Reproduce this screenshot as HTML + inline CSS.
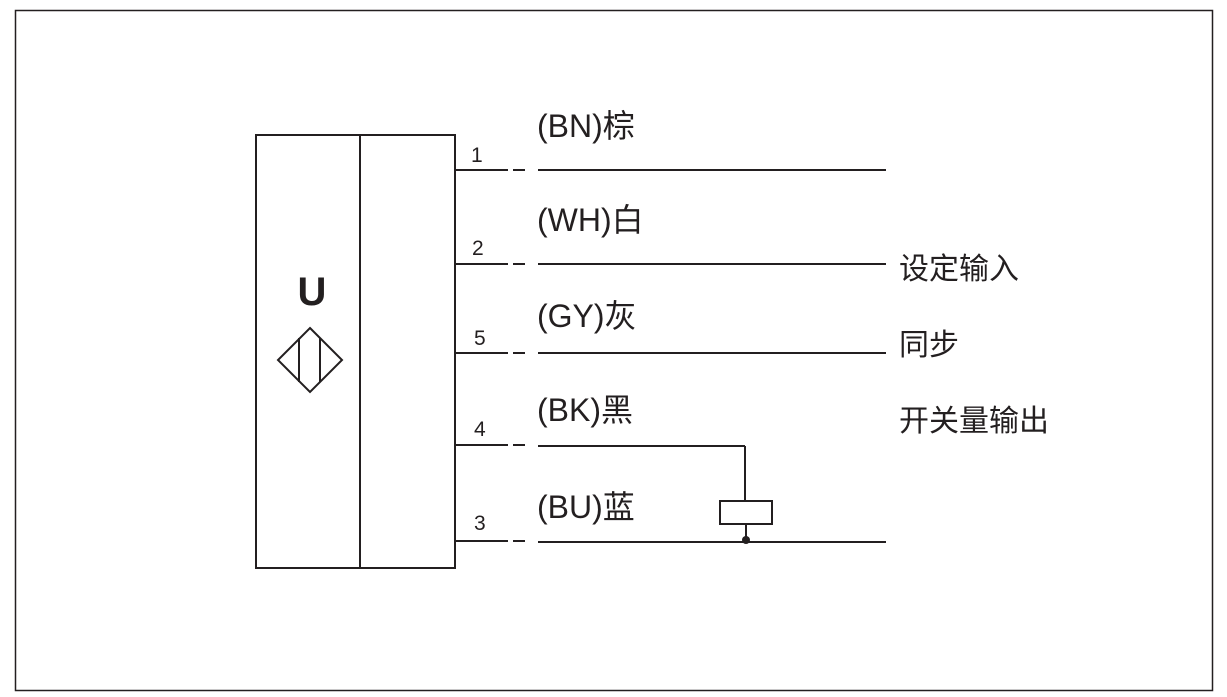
<!DOCTYPE html>
<html><head><meta charset="utf-8"><style>
html,body{margin:0;padding:0;background:#fff;}
svg{display:block;}
text{font-family:"Liberation Sans","Noto Sans CJK SC",sans-serif;fill:#231f20;}
</style></head><body>
<svg width="1227" height="697" viewBox="0 0 1227 697" xmlns="http://www.w3.org/2000/svg">
<rect x="15.5" y="10.5" width="1197" height="680" fill="none" stroke="#231f20" stroke-width="1.5"/>
<g stroke="#231f20" stroke-width="2" fill="none">
<rect x="256" y="135" width="199" height="433"/>
<line x1="360" y1="135" x2="360" y2="568"/>
<polygon points="310,328 342,360 310,392 278,360"/>
<line x1="299" y1="338" x2="299" y2="382"/>
<line x1="320" y1="338" x2="320" y2="382"/>
</g>
<text x="312" y="305" font-size="40" font-weight="bold" text-anchor="middle">U</text>
<g stroke="#231f20" stroke-width="2">
<line x1="455" y1="170" x2="508" y2="170"/><line x1="513" y1="170" x2="525" y2="170"/><line x1="538" y1="170" x2="886" y2="170"/>
<line x1="455" y1="264" x2="508" y2="264"/><line x1="513" y1="264" x2="525" y2="264"/><line x1="538" y1="264" x2="886" y2="264"/>
<line x1="455" y1="353" x2="508" y2="353"/><line x1="513" y1="353" x2="525" y2="353"/><line x1="538" y1="353" x2="886" y2="353"/>
<line x1="455" y1="445" x2="508" y2="445"/><line x1="513" y1="445" x2="525" y2="445"/><line x1="538" y1="446" x2="745" y2="446"/>
<line x1="745" y1="446" x2="745" y2="501"/>
<rect x="720" y="501" width="52" height="23" fill="none"/>
<line x1="746" y1="524" x2="746" y2="541"/>
<line x1="455" y1="541" x2="508" y2="541"/><line x1="513" y1="541" x2="525" y2="541"/><line x1="538" y1="542" x2="886" y2="542"/>
</g>
<circle cx="746" cy="540" r="4" fill="#231f20"/>
<g font-size="21">
<text x="471" y="162">1</text>
<text x="472" y="255">2</text>
<text x="474" y="345">5</text>
<text x="474" y="436">4</text>
<text x="474" y="530">3</text>
</g>
<g font-size="32">
<text x="537" y="137">(BN)棕</text>
<text x="537" y="231">(WH)白</text>
<text x="537" y="327">(GY)灰</text>
<text x="537" y="421">(BK)黑</text>
<text x="537" y="518">(BU)蓝</text>
</g>
<g font-size="30">
<text x="899" y="279">设定输入</text>
<text x="899" y="355">同步</text>
<text x="899" y="431">开关量输出</text>
</g>
</svg>
</body></html>
